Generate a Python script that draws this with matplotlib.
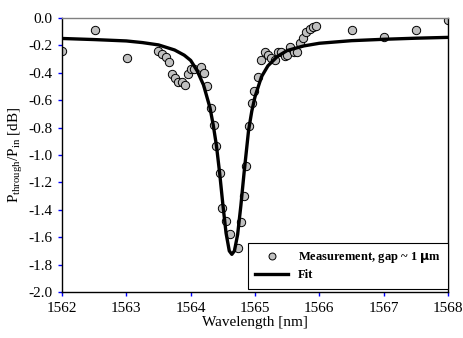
import matplotlib
matplotlib.use("Agg")
import matplotlib.pyplot as plt

# ---------------------------
# Data
# ---------------------------

# measured through-port transmission
meas_wl = [
    1562.00, 1562.51, 1563.01, 1563.49, 1563.56, 1563.61, 1563.66, 1563.71,
    1563.76, 1563.81, 1563.86, 1563.91, 1563.96, 1564.00, 1564.05, 1564.16,
    1564.20, 1564.26, 1564.31, 1564.36, 1564.40, 1564.46, 1564.49, 1564.55,
    1564.61, 1564.73, 1564.78, 1564.83, 1564.86, 1564.90, 1564.95, 1564.99,
    1565.05, 1565.10, 1565.15, 1565.20, 1565.25, 1565.31, 1565.35, 1565.41,
    1565.46, 1565.50, 1565.55, 1565.60, 1565.65, 1565.70, 1565.75, 1565.80,
    1565.85, 1565.90, 1565.95, 1566.51, 1567.00, 1567.50, 1568.00,
]
meas_db = [
    -0.24, -0.09, -0.29, -0.24, -0.265, -0.285, -0.32, -0.41,
    -0.44, -0.47, -0.47, -0.49, -0.41, -0.37, -0.37, -0.355,
    -0.40, -0.50, -0.66, -0.78, -0.935, -1.13, -1.39, -1.48,
    -1.58, -1.68, -1.49, -1.30, -1.08, -0.79, -0.62, -0.53,
    -0.43, -0.31, -0.25, -0.27, -0.295, -0.31, -0.25, -0.25,
    -0.28, -0.27, -0.21, -0.25, -0.25, -0.185, -0.15, -0.105,
    -0.08, -0.068, -0.06, -0.085, -0.14, -0.09, -0.017,
]

# fitted resonance curve
fit_wl = [
    1562.0, 1562.5, 1563.0, 1563.25, 1563.5, 1563.75, 1563.9, 1564.0,
    1564.1, 1564.2, 1564.3, 1564.35, 1564.4, 1564.45, 1564.5, 1564.55,
    1564.6, 1564.64, 1564.68, 1564.73, 1564.78, 1564.83, 1564.9, 1564.95,
    1565.0, 1565.1, 1565.2, 1565.35, 1565.5, 1565.75, 1566.0, 1566.5,
    1567.0, 1567.5, 1568.0,
]
fit_db = [
    -0.15, -0.158, -0.168, -0.18, -0.197, -0.234, -0.272, -0.31,
    -0.385, -0.49, -0.655, -0.78, -0.93, -1.13, -1.36, -1.57,
    -1.70, -1.725, -1.70, -1.58, -1.37, -1.13, -0.82, -0.68,
    -0.575, -0.43, -0.35, -0.28, -0.238, -0.205, -0.185, -0.166,
    -0.156, -0.148, -0.142,
]

x_ticks = [1562, 1563, 1564, 1565, 1566, 1567, 1568]
y_ticks = [-2.0, -1.8, -1.6, -1.4, -1.2, -1.0, -0.8, -0.6, -0.4, -0.2, 0.0]

# ---------------------------
# Plot
# ---------------------------

plt.rcParams["font.family"] = ["Liberation Serif", "DejaVu Serif"]
plt.rcParams["mathtext.fontset"] = "custom"
plt.rcParams["mathtext.rm"] = "Liberation Serif"

fig = plt.figure(figsize=(4.64, 3.38), dpi=100)
ax = fig.add_axes([0.1336, 0.136, 0.832, 0.811])

ax.plot(meas_wl, meas_db, "o", ms=6, mfc="#c0c0c0", mec="black", mew=0.7,
        label=r"Measurement, gap ~ 1 $\mathbf{\mu}$m", zorder=2)
ax.plot(fit_wl, fit_db, "-", color="black", lw=2.4,
        solid_joinstyle="round", label="Fit", zorder=3)

ax.set_xlim(1562, 1568)
ax.set_ylim(-2.0, 0.0)
ax.set_xticks(x_ticks)
ax.set_yticks(y_ticks)
ax.set_yticklabels([f"{v:.1f}" for v in y_ticks])
ax.tick_params(direction="out", length=3, width=1, color="blue",
               labelsize=11, pad=4)

ax.spines["top"].set_color("#808080")
for s in ["left", "bottom", "right"]:
    ax.spines[s].set_color("black")
for s in ax.spines.values():
    s.set_linewidth(1)

ax.set_xlabel("Wavelength [nm]", fontsize=11, labelpad=1)
ax.set_ylabel(r"P$_{\rm through}$/P$_{\rm in}$ [dB]", fontsize=11, labelpad=2)

leg = ax.legend(loc="lower right", bbox_to_anchor=(1.0, 0.012),
                borderaxespad=0, numpoints=1, handlelength=2.6,
                fancybox=False, framealpha=1, edgecolor="black",
                prop={"size": 9, "weight": "bold"}, borderpad=0.6,
                labelspacing=0.3)
leg.get_frame().set_linewidth(0.8)
for h in leg.legend_handles[:1]:
    h.set_markersize(5)

fig.savefig("out.png", dpi=100)
